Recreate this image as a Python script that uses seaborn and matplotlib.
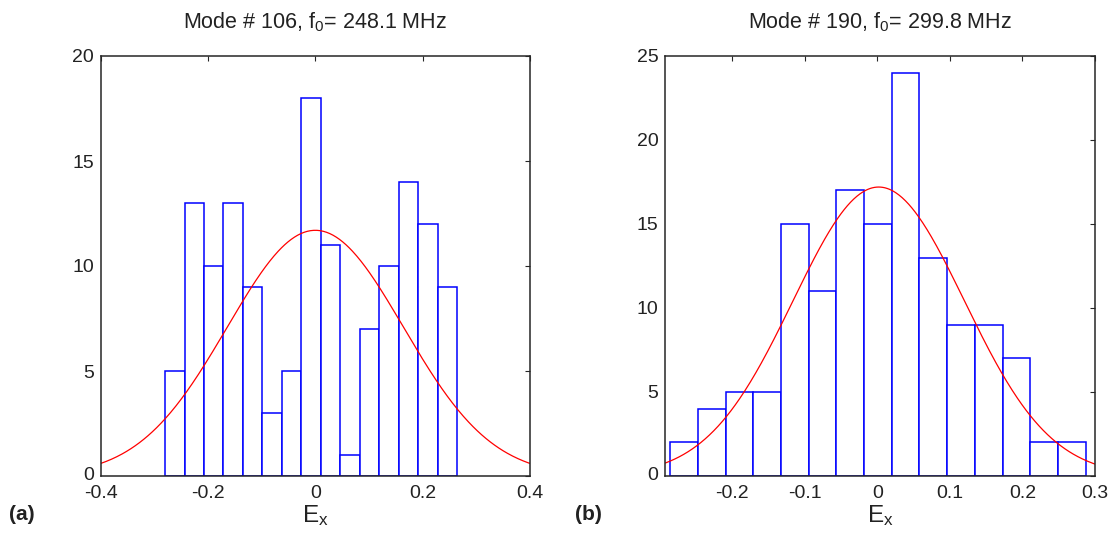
import numpy as np
import pandas as pd
import matplotlib
matplotlib.use("Agg")
import matplotlib.pyplot as plt
import matplotlib.transforms as mtransforms
import seaborn as sns

# ---- data ----
counts_a = [5, 13, 10, 13, 9, 3, 5, 18, 11, 1, 7, 10, 14, 12, 9]
edge_min_a, edge_max_a = -0.280, 0.264
fit_peak_a, fit_mu_a, fit_sigma_a = 11.7, 0.0, 0.164
title_a = "Mode # 106, f$_0$= 248.1 MHz"
xlim_a = (-0.4, 0.4)
xticks_a = [-0.4, -0.2, 0, 0.2, 0.4]
xticklabels_a = ["-0.4", "-0.2", "0", "0.2", "0.4"]
yticks_a = [0, 5, 10, 15, 20]

counts_b = [2, 4, 5, 5, 15, 11, 17, 15, 24, 13, 9, 9, 7, 2, 2]
edge_min_b, edge_max_b = -0.285, 0.287
fit_peak_b, fit_mu_b, fit_sigma_b = 17.2, 0.002, 0.118
title_b = "Mode # 190, f$_0$= 299.8 MHz"
xlim_b = (-0.292, 0.3)
xticks_b = [-0.2, -0.1, 0, 0.1, 0.2, 0.3]
xticklabels_b = ["-0.2", "-0.1", "0", "0.1", "0.2", "0.3"]
yticks_b = [0, 5, 10, 15, 20, 25]

sns.set_style("white")
plt.rcParams["font.family"] = ["Liberation Sans", "DejaVu Sans"]
plt.rcParams["mathtext.fontset"] = "custom"
plt.rcParams["mathtext.rm"] = "Liberation Sans"
plt.rcParams["mathtext.it"] = "Liberation Sans"
plt.rcParams["mathtext.default"] = "regular"

W, H = 1113, 544
fig = plt.figure(figsize=(W / 100, H / 100), dpi=100)
ax_a = fig.add_axes([100.7 / W, (H - 476) / H, 429.3 / W, 420 / H])
ax_b = fig.add_axes([665.3 / W, (H - 476) / H, 429.7 / W, 420 / H])

TXT = "#222222"


def panel(ax, counts, emin, emax, peak, mu, sigma, title, xlim, xticks, xtl, yticks):
    n = len(counts)
    width = (emax - emin) / n
    centers = emin + width * (np.arange(n) + 0.5)
    df = pd.DataFrame({"x": centers, "w": np.asarray(counts, dtype=float)})
    sns.histplot(data=df, x="x", weights="w", bins=n, binrange=(emin, emax), ax=ax,
                 element="bars", fill=True, color="white", edgecolor="#0000ff",
                 linewidth=1.1, alpha=1.0)
    for p in ax.patches:
        p.set_facecolor("white")
        p.set_edgecolor("#0000ff")
    xs = np.linspace(xlim[0], xlim[1], 400)
    ys = peak * np.exp(-0.5 * ((xs - mu) / sigma) ** 2)
    sns.lineplot(x=xs, y=ys, ax=ax, color="#ff0000", linewidth=0.9)
    ax.set_xlim(*xlim)
    ax.set_ylim(yticks[0], yticks[-1])
    ax.set_xticks(xticks)
    ax.set_xticklabels(xtl)
    ax.set_yticks(yticks)
    ax.set_yticklabels([str(v) for v in yticks])
    ax.tick_params(direction="in", length=3.5, width=0.8, top=True, right=True,
                   labelsize=14, colors="#262626", labelcolor=TXT)
    ax.tick_params(axis="x", pad=6.5)
    ax.tick_params(axis="y", pad=5)
    # lift the bottom "0" y label slightly so it doesn't collide with x labels
    lbl0 = ax.get_yticklabels()[0]
    lbl0.set_transform(lbl0.get_transform() +
                       mtransforms.ScaledTranslation(0, 3 / 100, fig.dpi_scale_trans))
    for s in ax.spines.values():
        s.set_visible(True)
        s.set_color("#262626")
        s.set_linewidth(1.1)
    ax.set_ylabel("")
    ax.set_xlabel("E$_x$", fontsize=17.5, color=TXT, labelpad=1)
    ax.set_title(title, fontsize=15.5, color=TXT, pad=20)


panel(ax_a, counts_a, edge_min_a, edge_max_a, fit_peak_a, fit_mu_a, fit_sigma_a,
      title_a, xlim_a, xticks_a, xticklabels_a, yticks_a)
panel(ax_b, counts_b, edge_min_b, edge_max_b, fit_peak_b, fit_mu_b, fit_sigma_b,
      title_b, xlim_b, xticks_b, xticklabels_b, yticks_b)

fig.text(9 / W, (H - 515) / H, "(a)", fontsize=15, fontweight="bold", color=TXT,
         ha="left", va="center")
fig.text(575 / W, (H - 515) / H, "(b)", fontsize=15, fontweight="bold", color=TXT,
         ha="left", va="center")

fig.savefig("out.png", dpi=100, facecolor="white")
